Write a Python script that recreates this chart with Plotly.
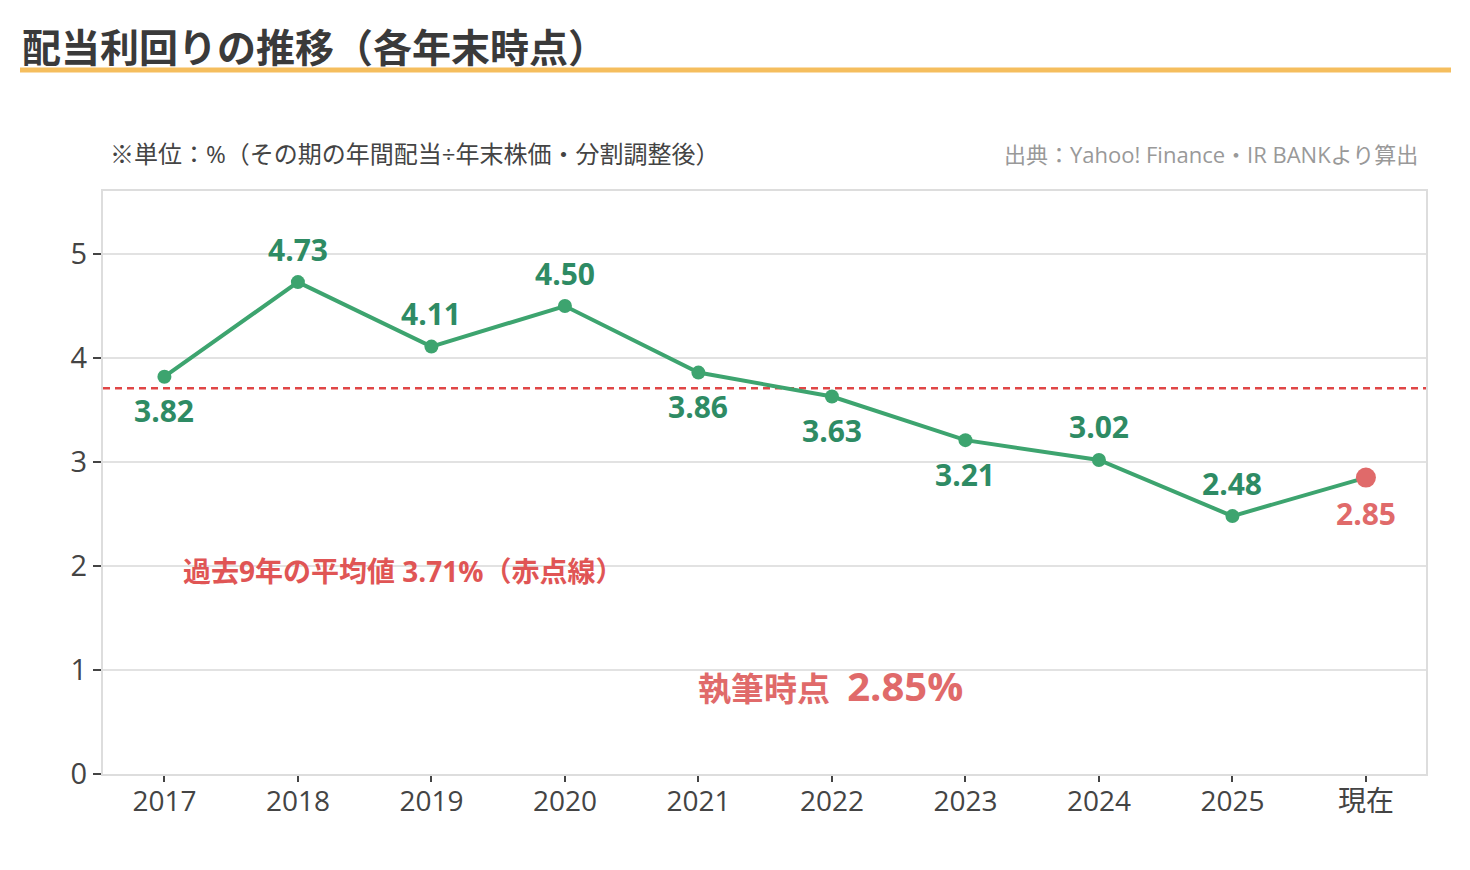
import plotly.graph_objects as go

categories = ["2017", "2018", "2019", "2020", "2021", "2022", "2023", "2024", "2025", "現在"]
yields = [3.82, 4.73, 4.11, 4.50, 3.86, 3.63, 3.21, 3.02, 2.48, 2.85]
label_pos = ["below", "above", "above", "above", "below", "below", "below", "above", "above", "below"]
average = 3.71
y_ticks = [0, 1, 2, 3, 4, 5]

W, H = 1470, 870
L, R, T, B = 103, 44, 191, 96
PW, PH = W - L - R, H - T - B

def px(x):
    return (x - L) / PW

def py(y):
    return (H - B - y) / PH

FONT = "Open Sans, Noto Sans CJK JP"
CJK = "Noto Sans CJK JP"
GREEN = "#3DA46F"
DGREEN = "#2E8B64"
RED = "#E06A6A"
n = len(categories)

fig = go.Figure()

fig.add_trace(go.Scatter(
    x=categories, y=yields, mode="lines+markers",
    line=dict(color=GREEN, width=4),
    marker=dict(size=[14] * (n - 1) + [20], color=[GREEN] * (n - 1) + [RED],
                opacity=1, line=dict(width=0)),
    showlegend=False,
))

annotations = []
for i, (v, p) in enumerate(zip(yields, label_pos)):
    last = i == n - 1
    annotations.append(dict(
        x=i, y=v, xref="x", yref="y", text=f"<b>{v:.2f}</b>", showarrow=False,
        yshift=(-36 if last else (-34 if p == "below" else 33)),
        font=dict(family=FONT, size=30, color=RED if last else DGREEN),
    ))

annotations += [
    dict(x=px(20), y=py(45), xref="paper", yref="paper", xanchor="left", yanchor="middle",
         text="<b>配当利回りの推移（各年末時点）</b>", showarrow=False,
         font=dict(family=CJK, size=39, color="#3A3A3A")),
    dict(x=px(108), y=py(153), xref="paper", yref="paper", xanchor="left", yanchor="middle",
         text="※単位：%（その期の年間配当÷年末株価・分割調整後）", showarrow=False,
         font=dict(family=FONT, size=24, color="#444444")),
    dict(x=px(1420), y=py(154), xref="paper", yref="paper", xanchor="right", yanchor="middle",
         text="出典：Yahoo! Finance・IR BANKより算出", showarrow=False,
         font=dict(family=FONT, size=22, color="#999999")),
    dict(x=px(181), y=py(571), xref="paper", yref="paper", xanchor="left", yanchor="middle",
         text="<b>過去9年の平均値 3.71%（赤点線）</b>", showarrow=False,
         font=dict(family=FONT, size=28, color="#E05555")),
    dict(x=px(696), y=py(685), xref="paper", yref="paper", xanchor="left", yanchor="middle",
         text="<b>執筆時点&nbsp; <span style='font-size:40px'>2.85%</span></b>", showarrow=False,
         font=dict(family=FONT, size=33, color=RED)),
]

fig.update_layout(
    width=W, height=H,
    margin=dict(l=L, r=R, t=T, b=B),
    paper_bgcolor="white", plot_bgcolor="white",
    annotations=annotations,
    shapes=[
        dict(type="line", xref="paper", yref="paper",
             x0=px(20), x1=px(1451), y0=py(70), y1=py(70),
             line=dict(color="#F5BE5E", width=5)),
        dict(type="line", xref="paper", yref="y", x0=0, x1=1, y0=average, y1=average,
             line=dict(color="#E04646", width=2.5, dash="7px,5px"), layer="below"),
    ],
    xaxis=dict(
        type="category", range=[-0.46, 9.45], showgrid=False, showline=True,
        linecolor="#DDDDDD", linewidth=2,
        mirror=True, ticks="outside", ticklen=6, tickcolor="#444444", tickwidth=1.5,
        ticklabelstandoff=-5,
        tickfont=dict(family=FONT, size=28, color="#444444"), zeroline=False,
    ),
    yaxis=dict(
        range=[0, 5.606], tickvals=y_ticks, showgrid=True, gridcolor="#E2E2E2", gridwidth=1.5,
        showline=True, linecolor="#DDDDDD", linewidth=2, mirror=True,
        ticks="outside", ticklen=8, tickcolor="#444444", tickwidth=1.5,
        tickfont=dict(family=FONT, size=29, color="#444444"), zeroline=False,
    ),
    font=dict(family=FONT),
)

fig.write_html("out.html")
